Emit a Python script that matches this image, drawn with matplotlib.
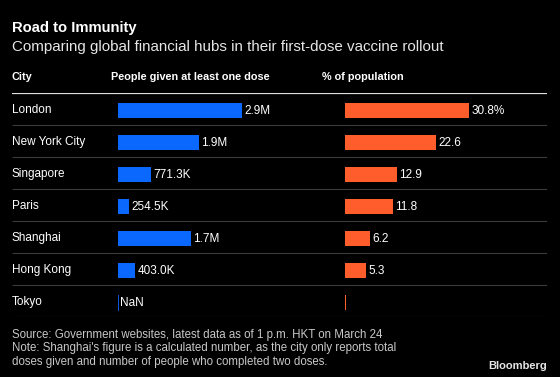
import numpy as np
import matplotlib
matplotlib.use("Agg")
import matplotlib.pyplot as plt

plt.rcParams['font.family'] = ['Liberation Sans', 'DejaVu Sans']

cities = ["London", "New York City", "Singapore", "Paris", "Shanghai", "Hong Kong", "Tokyo"]
people = [2.9e6, 1.9e6, 771.3e3, 254.5e3, 1.7e6, 403.0e3, np.nan]
people_labels = ["2.9M", "1.9M", "771.3K", "254.5K", "1.7M", "403.0K", "NaN"]
pct = [30.8, 22.6, 12.9, 11.8, 6.2, 5.3, 0.3]
pct_labels = ["30.8%", "22.6", "12.9", "11.8", "6.2", "5.3", ""]

W, H = 560, 377
BLUE = "#0a68ff"
ORANGE = "#ff5d2c"
bg = "black"

fig = plt.figure(figsize=(W / 100, H / 100), dpi=100, facecolor=bg)


def rect(x0, y0, x1, y1):
    return [x0 / W, 1 - y1 / H, (x1 - x0) / W, (y1 - y0) / H]


# titles
fig.text(12 / W, 1 - 32 / H, "Road to Immunity", color="white", fontsize=10.6,
         fontweight="bold", va="baseline")
fig.text(12 / W, 1 - 51 / H, "Comparing global financial hubs in their first-dose vaccine rollout",
         color="#e6e6e6", fontsize=10.9, va="baseline")
for x, t in [(12, "City"), (111, "People given at least one dose"), (322, "% of population")]:
    fig.text(x / W, 1 - 80 / H, t, color="white", fontsize=7.8, fontweight="bold", va="baseline")

n = len(cities)
ax = fig.add_axes(rect(12, 93, 547, 317))
ax.set_xlim(0, 1)
ax.set_ylim(n - 0.5, -0.5)
ax.axis("off")
ax.hlines(-0.5, 0, 1, color="#e0e0e0", lw=1.6)
ax.hlines(np.arange(n) + 0.5, 0, 1, color="#3a3a3a", lw=0.8)
for i, c in enumerate(cities):
    ax.text(0, i + 0.03, c, color="white", fontsize=8.5, va="center", ha="left")

# people bars
ax1 = fig.add_axes(rect(118, 93, 318, 317), sharey=ax)
ax1.set_xlim(0, max(np.nan_to_num(people)) * 200 / 124)
ax1.axis("off")
ys = np.arange(n) + 0.05
for y, v, lab in zip(ys, people, people_labels):
    if np.isnan(v):
        ax1.vlines(0, y - 0.25, y + 0.25, color=BLUE, lw=1.2)
        xl = 0
    else:
        ax1.barh(y, v, height=0.49, color=BLUE)
        xl = v
    ax1.annotate(lab, (xl, y), xytext=(1.5, 0), textcoords="offset points",
                 color="white", fontsize=8.5, va="center")

# pct bars
ax2 = fig.add_axes(rect(345, 93, 545, 317), sharey=ax)
ax2.set_xlim(0, max(pct) * 200 / 124)
ax2.axis("off")
ax2.barh(ys, pct, height=0.49, color=ORANGE)
for y, v, lab in zip(ys, pct, pct_labels):
    ax2.annotate(lab, (v, y), xytext=(1.5, 0), textcoords="offset points",
                 color="white", fontsize=8.5, va="center")

# footer
foot = ["Source: Government websites, latest data as of 1 p.m. HKT on March 24",
        "Note: Shanghai's figure is a calculated number, as the city only reports total",
        "doses given and number of people who completed two doses."]
for k, line in enumerate(foot):
    fig.text(12 / W, 1 - (338 + 13.5 * k) / H, line, color="#c8c8c8", fontsize=8.3,
             va="baseline")
fig.text(547 / W, 1 - 369 / H, "Bloomberg", color="#e6e6e6", fontsize=8,
         fontweight="bold", ha="right", va="baseline")

fig.savefig("out.png", dpi=100, facecolor=bg)
